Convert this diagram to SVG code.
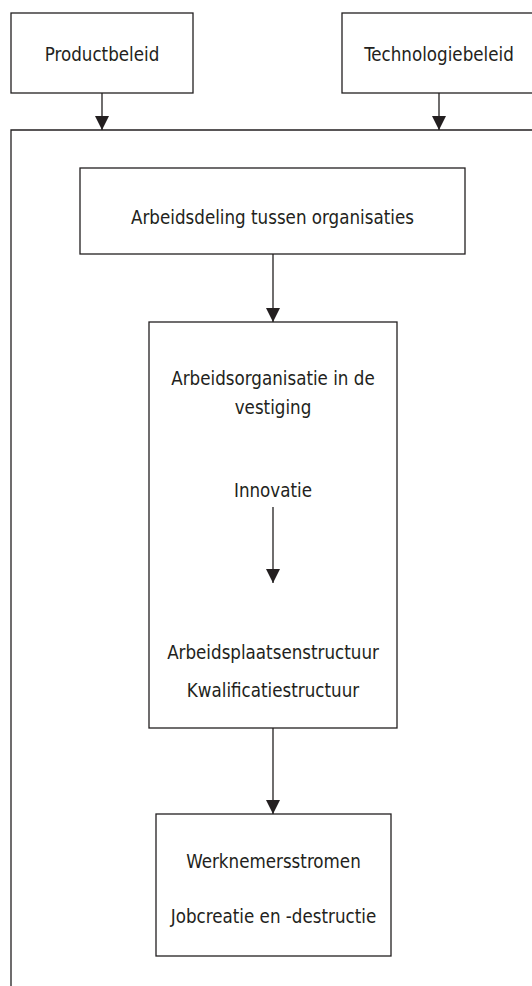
<svg xmlns="http://www.w3.org/2000/svg" width="532" height="986" viewBox="0 0 532 986">
  <style>
    .box { fill: #ffffff; stroke: #231f20; stroke-width: 1.3; }
    .lbl { font-family: "DejaVu Sans Condensed", "DejaVu Sans", sans-serif; font-stretch: condensed; font-size: 18.6px; fill: #231f20; text-anchor: middle; }
    .conn { stroke: #231f20; stroke-width: 1.3; fill: none; }
  </style>
  <defs>
    <marker id="arrow" markerUnits="userSpaceOnUse" viewBox="0 0 14 14" markerWidth="14" markerHeight="14" refX="14" refY="7" orient="auto">
      <path d="M0,0 L14,7 L0,14 z" fill="#231f20"/>
    </marker>
  </defs>
  <rect width="532" height="986" fill="#ffffff"/>

  <g id="frame">
    <path class="conn" d="M11,986 L11,130 L540,130"/>
  </g>

  <g id="productbeleid">
    <rect class="box" x="11" y="13" width="182" height="80"/>
    <text class="lbl" x="102" y="61">Productbeleid</text>
  </g>

  <g id="technologiebeleid">
    <rect class="box" x="342" y="13" width="200" height="80"/>
    <text class="lbl" x="439" y="61">Technologiebeleid</text>
  </g>

  <g id="arbeidsdeling">
    <rect class="box" x="80" y="168" width="385" height="86"/>
    <text class="lbl" x="272.5" y="224">Arbeidsdeling tussen organisaties</text>
  </g>

  <g id="arbeidsorganisatie">
    <rect class="box" x="149" y="322" width="248" height="406"/>
    <text class="lbl" x="273" y="385">Arbeidsorganisatie in de</text>
    <text class="lbl" x="273" y="414">vestiging</text>
    <text class="lbl" x="273" y="497">Innovatie</text>
    <text class="lbl" x="273" y="659">Arbeidsplaatsenstructuur</text>
    <text class="lbl" x="273" y="697">Kwalificatiestructuur</text>
  </g>

  <g id="werknemersstromen">
    <rect class="box" x="156" y="814" width="235" height="142"/>
    <text class="lbl" x="273.5" y="868">Werknemersstromen</text>
    <text class="lbl" x="273.5" y="923">Jobcreatie en -destructie</text>
  </g>

  <g id="connectors">
    <line class="conn" x1="102" y1="93" x2="102" y2="130" marker-end="url(#arrow)"/>
    <line class="conn" x1="439" y1="93" x2="439" y2="130" marker-end="url(#arrow)"/>
    <line class="conn" x1="273" y1="254" x2="273" y2="322" marker-end="url(#arrow)"/>
    <line class="conn" x1="273" y1="507" x2="273" y2="583" marker-end="url(#arrow)"/>
    <line class="conn" x1="273" y1="728" x2="273" y2="814" marker-end="url(#arrow)"/>
  </g>
</svg>
